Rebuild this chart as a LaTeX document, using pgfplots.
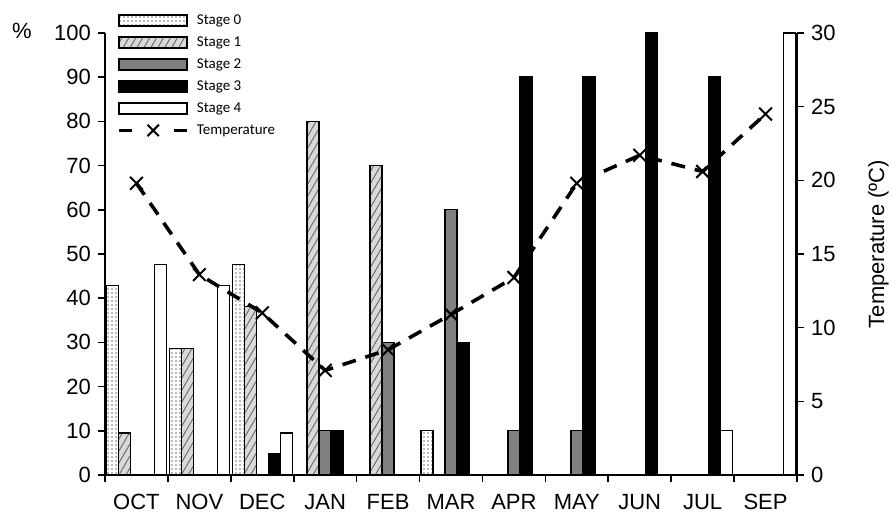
\documentclass[border=0pt]{standalone}
\usepackage{fontspec}
\setmainfont{Liberation Sans}
\newfontfamily\carlito{Carlito}
\usepackage{pgfplots}
\pgfplotsset{compat=1.18}
\usetikzlibrary{patterns,patterns.meta}
\pgfplotsset{
  barleg/.style={legend image code/.code={\draw[##1] (0pt,-2.75pt) rectangle (34pt,2.75pt);}},
  templeg/.style={legend image code/.code={%
      \draw[##1] (0pt,0pt) -- (34pt,0pt);
      \begin{scope}[shift={(17pt,0pt)}]
        \pgfsetdash{}{0pt}\pgfsetlinewidth{1pt}\pgfsetstrokecolor{black}%
        \pgfmathsetlength{\pgfplotmarksize}{4pt}\pgfuseplotmark{x}%
      \end{scope}}},
  st0/.style={draw=black, line width=0.7pt, fill=white, postaction={pattern={Dots[distance=2pt,radius=0.45pt]}, pattern color=black!55}, barleg},
  st1/.style={draw=black, line width=0.7pt, fill=black!15, postaction={pattern={Lines[angle=60,distance=3pt,line width=0.45pt]}, pattern color=black!60}, barleg},
  st2/.style={draw=black, line width=0.7pt, fill=black!50, barleg},
  st3/.style={draw=black, line width=0.7pt, fill=black, barleg},
  st4/.style={draw=black, line width=0.7pt, fill=white, barleg},
}
\begin{document}
\begin{tikzpicture}
\begin{axis}[
  scale only axis, width=346pt, height=221pt,
  xmin=-0.5, xmax=10.5, ymin=0, ymax=100,
  ybar=0pt, bar width=6pt,
  axis x line*=bottom, axis y line*=left,
  axis line style={line width=1pt},
  xtick={-0.5,0.5,...,10.5}, xticklabels={},
  extra x ticks={0,...,10},
  extra x tick labels={OCT,NOV,DEC,JAN,FEB,MAR,APR,MAY,JUN,JUL,SEP},
  extra x tick style={major tick length=0pt, tick label style={yshift=-6pt}},
  ytick={0,10,...,100},
  tick align=outside, major tick length=3.5pt,
  tick style={black, line width=0.8pt},
  tick label style={font=\fontsize{11}{13}\selectfont},
  /pgf/number format/assume math mode=true,
  legend cell align=left,
  legend style={draw=none, fill=none, inner sep=0pt,
    at={(axis description cs:0,1)}, anchor=north west, xshift=6pt, yshift=11pt,
    font=\carlito\fontsize{7.5}{9}\selectfont,
    nodes={inner sep=1pt, text height=5.5pt, text depth=1.5pt},
    row sep=2pt,
    /tikz/every odd column/.append style={column sep=3pt}},
  clip=false,
]
\addplot[st0] coordinates {(0,42.9) (1,28.6) (2,47.6) (5,10)};
\addplot[st1] coordinates {(0,9.5) (1,28.6) (2,38.1) (3,80) (4,70)};
\addplot[st2] coordinates {(3,10) (4,30) (5,60) (6,10) (7,10)};
\addplot[st3] coordinates {(2,4.8) (3,10) (5,30) (6,90) (7,90) (8,100) (9,90)};
\addplot[st4] coordinates {(0,47.6) (1,42.9) (2,9.5) (9,10) (10,100)};
\addlegendimage{black, line width=1.8pt, dash pattern=on 6.5pt off 21pt, templeg}
\legend{Stage 0,Stage 1,Stage 2,Stage 3,Stage 4,Temperature}
\node[font=\fontsize{11}{13}\selectfont] at (axis description cs:0,1) [xshift=-41.5pt, yshift=1pt] {\%};
\coordinate (ax0) at (axis description cs:0,0);
\end{axis}
\begin{axis}[
  scale only axis, width=346pt, height=221pt,
  xmin=-0.5, xmax=10.5, ymin=0, ymax=30,
  axis y line*=right, axis x line=none,
  axis line style={line width=1pt},
  ytick={0,5,...,30},
  tick align=outside, major tick length=3.5pt,
  tick style={black, line width=0.8pt},
  tick label style={font=\fontsize{11}{13}\selectfont},
  /pgf/number format/assume math mode=true,
  ylabel={Temperature (ºC)},
  ylabel style={font=\fontsize{11}{13}\selectfont, yshift=-9.5pt, xshift=5pt},
  clip=false,
]
\addplot[black, line width=1.8pt, dash pattern=on 7pt off 5pt, mark=x, mark size=4.5pt, mark options={solid, line width=1pt}]
 coordinates {(0,19.8) (1,13.6) (2,11.0) (3,7.1) (4,8.5) (5,10.9) (6,13.4) (7,19.8) (8,21.7) (9,20.6) (10,24.5)};
\end{axis}
\pgfresetboundingbox
\path[use as bounding box] ([shift={(-52.5pt,-19pt)}]ax0) rectangle ([shift={(392.5pt,237.5pt)}]ax0);
\end{tikzpicture}
\end{document}
